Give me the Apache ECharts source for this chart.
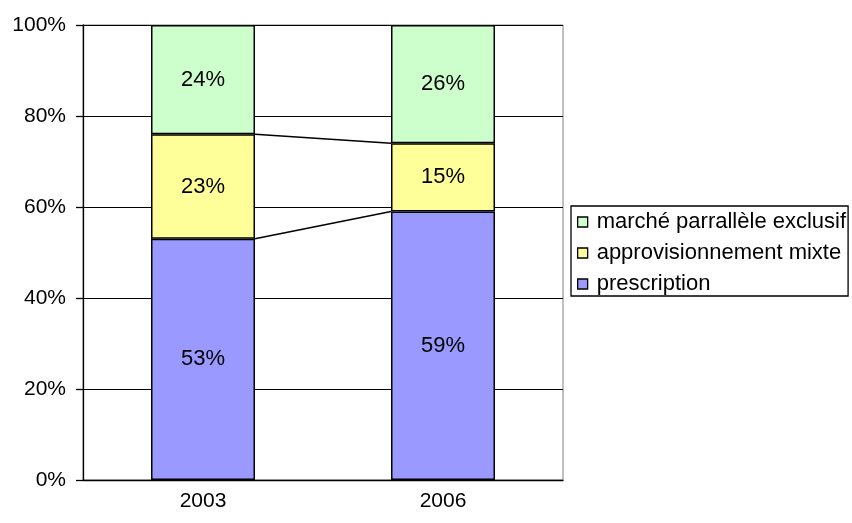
<!DOCTYPE html>
<html><head><meta charset="utf-8">
<script src="https://cdn.jsdelivr.net/npm/echarts@6/dist/echarts.min.js"></script>
<style>html,body{margin:0;padding:0;background:#fff}#c{width:852px;height:523px}</style>
</head><body><div id="c"></div>
<script>
const categories = ['2003', '2006'];
const prescription = [53, 59];
const approvisionnementMixte = [23, 15];
const marcheParallele = [24, 26];
const yTicks = [0, 20, 40, 60, 80, 100];
const seriesNames = ['prescription', 'approvisionnement mixte', 'marché parrallèle exclusif'];
const colors = ['#9999FF', '#FFFF99', '#CCFFCC'];

const BAR_FRAC = 104 / 240;
const font = 'Liberation Sans, Arial, sans-serif';

const cum1 = prescription.map((v, i) => v);
const cum2 = prescription.map((v, i) => v + approvisionnementMixte[i]);
const lineData = [];
for (let i = 0; i < categories.length - 1; i++) {
  lineData.push([i, cum1[i], cum1[i + 1]]);
  lineData.push([i, cum2[i], cum2[i + 1]]);
}

const chart = echarts.init(document.getElementById('c'), null, {renderer: 'canvas'});
const barSeries = [prescription, approvisionnementMixte, marcheParallele].map((d, k) => ({
  name: seriesNames[k],
  type: 'bar',
  stack: 'total',
  data: d,
  barWidth: (BAR_FRAC * 100) + '%',
  itemStyle: {color: colors[k], borderColor: '#000', borderWidth: 1.5},
  label: {show: true, position: 'inside', formatter: '{c}%', color: '#000', fontSize: 22, fontFamily: font},
  emphasis: {disabled: true},
  z: 2
}));

chart.setOption({
  animation: false,
  backgroundColor: '#fff',
  textStyle: {fontFamily: font},
  grid: {left: 83, right: 289, top: 25, bottom: 43, show: true, borderColor: '#808080', borderWidth: 1, backgroundColor: 'transparent'},
  legend: {
    orient: 'vertical',
    left: 571, top: 206,
    data: [seriesNames[2], seriesNames[1], seriesNames[0]],
    icon: 'rect', itemWidth: 10, itemHeight: 10, itemGap: 9,
    borderColor: '#000', borderWidth: 1.3, padding: [5, 2, 1, 6],
    textStyle: {fontSize: 22, color: '#000', fontFamily: font, padding: [0, 0, 0, 4]},
    itemStyle: {borderColor: '#000', borderWidth: 1.3},
    selectedMode: false
  },
  xAxis: {
    type: 'category', data: categories,
    axisLine: {lineStyle: {color: '#000', width: 1.3}},
    axisTick: {length: 6, lineStyle: {color: '#000', width: 1.3}},
    axisLabel: {color: '#000', fontSize: 21, margin: 11, fontFamily: font}
  },
  yAxis: {
    type: 'value', min: 0, max: 100, interval: 20,
    axisLine: {show: true, lineStyle: {color: '#000', width: 1.3}},
    axisTick: {show: true, length: 7, lineStyle: {color: '#000', width: 1.3}},
    axisLabel: {color: '#000', fontSize: 21, margin: 17, formatter: v => v + '%', fontFamily: font},
    splitLine: {show: true, lineStyle: {color: '#000', width: 1}}
  },
  series: barSeries.concat([{
    type: 'custom',
    data: lineData,
    silent: true,
    z: 3,
    renderItem: function (params, api) {
      const i = api.value(0);
      const a = api.coord([i, api.value(1)]);
      const b = api.coord([i + 1, api.value(2)]);
      const w = api.size([1, 0])[0] * BAR_FRAC;
      return {
        type: 'line',
        shape: {x1: a[0] + w / 2, y1: a[1], x2: b[0] - w / 2, y2: b[1]},
        style: {stroke: '#000', lineWidth: 1.5}
      };
    }
  }])
});
</script></body></html>
